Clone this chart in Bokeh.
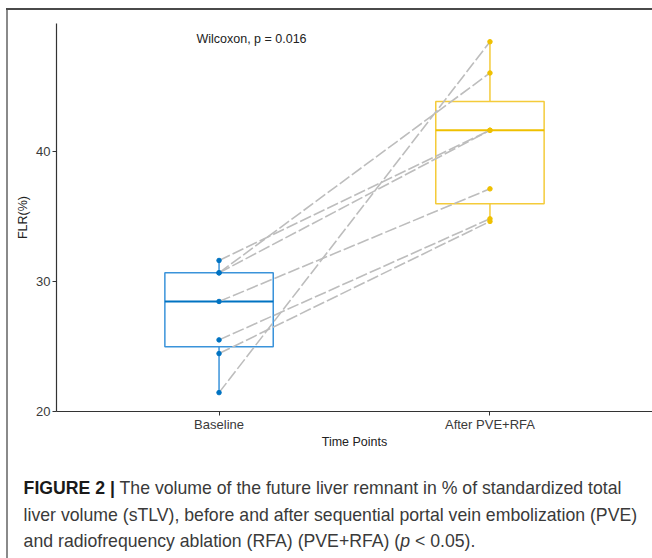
import numpy as np
from bokeh.plotting import figure
from bokeh.models import Range1d, FixedTicker, Label, ColumnDataSource, Div
from bokeh.layouts import column
from bokeh.embed import file_html
from bokeh.resources import INLINE

# ---------------- data ----------------
time_points = ["Baseline", "After PVE+RFA"]
baseline = [31.6, 30.65, 30.65, 28.45, 25.5, 24.45, 21.45]
after = [41.6, 46.0, 41.6, 37.1, 34.8, 34.6, 48.4]
y_ticks = [20, 30, 40]
test_label = "Wilcoxon, p = 0.016"
x_title = "Time Points"
y_title = "FLR(%)"
caption_bold = "FIGURE 2 |"
caption_lines = [
    "The volume of the future liver remnant in % of standardized total",
    "liver volume (sTLV), before and after sequential portal vein embolization (PVE)",
    "and radiofrequency ablation (RFA) (PVE+RFA) (<i>p</i> &lt; 0.05).",
]
box_colors = ["#3A93DA", "#F4CB3A"]
point_colors = ["#0073C2", "#EFC000"]

# ---------------- layout ----------------
W, H_FIG, H_CAP = 652, 462, 96
FL, FT, FB = 56, 23, 411          # frame left / top / bottom (px)
x0, x1 = 0.4, 2.6
y0, y1 = 20, 49.8
ppx = (W - FL) / (x1 - x0)
ppy = (FB - FT) / (y1 - y0)

def dx(px):
    return x0 + (px - FL) / ppx

def dy(py):
    return y0 + (FB - py) / ppy

p = figure(width=W, height=H_FIG, x_range=Range1d(x0, x1), y_range=Range1d(y0, y1),
           output_backend="svg", toolbar_location=None,
           min_border_left=FL, min_border_top=FT, min_border_bottom=H_FIG - FB,
           min_border_right=0, background_fill_color="white",
           border_fill_color=None)
p.outline_line_color = None
p.grid.visible = False

font = "Liberation Sans"
for ax in (p.xaxis[0], p.yaxis[0]):
    ax.axis_line_color = "#333333"
    ax.axis_line_width = 1.2
    ax.major_tick_line_color = "#333333"
    ax.major_tick_in = 0
    ax.major_tick_out = 4
    ax.minor_tick_line_color = None
    ax.major_label_text_font = font
    ax.major_label_text_font_size = "13px"
    ax.major_label_text_color = "#3a3a3a"
    ax.axis_label_text_font = font
    ax.axis_label_text_font_size = "12.5px"
    ax.axis_label_text_font_style = "normal"
    ax.axis_label_text_color = "#222222"

xpos = [i + 1 for i in range(len(time_points))]
p.xaxis.ticker = FixedTicker(ticks=xpos)
p.xaxis.major_label_overrides = {x: t for x, t in zip(xpos, time_points)}
p.xaxis.major_label_standoff = 1
p.xaxis.axis_label = x_title
p.xaxis.axis_label_standoff = 0
p.yaxis.ticker = FixedTicker(ticks=y_ticks)
p.yaxis.major_label_standoff = 2
p.yaxis.axis_label = y_title
p.yaxis.axis_label_standoff = 3

# ---------------- boxes ----------------
groups = [baseline, after]
half = 0.2
for xc, vals, bc, pc in zip(xpos, groups, box_colors, point_colors):
    v = np.array(vals)
    q1, med, q3 = np.percentile(v, [25, 50, 75])
    iqr = q3 - q1
    lo = v[v >= q1 - 1.5 * iqr].min()
    hi = v[v <= q3 + 1.5 * iqr].max()
    p.quad(left=[xc - half], right=[xc + half], bottom=[q1], top=[q3],
           fill_color="white", line_color=bc, line_width=1.5)
    p.segment(x0=[xc, xc], y0=[q3, q1], x1=[xc, xc], y1=[hi, lo],
              line_color=bc, line_width=1.5)
    p.segment(x0=[xc - half], y0=[med], x1=[xc + half], y1=[med],
              line_color=pc, line_width=2.2)

# ---------------- paired lines ----------------
src = ColumnDataSource(dict(x0=[xpos[0]] * len(baseline), y0=baseline,
                            x1=[xpos[1]] * len(after), y1=after))
p.segment(x0="x0", y0="y0", x1="x1", y1="y1", source=src,
          line_color="#BDBDBD", line_width=1.6, line_dash="12 3")

for xc, vals, pc in zip(xpos, groups, point_colors):
    p.scatter(x=[xc] * len(vals), y=vals, size=4.5, fill_color=pc,
              line_color=pc)

# ---------------- annotations ----------------
p.add_layout(Label(x=dx(251), y=dy(38), text=test_label, text_font=font,
                   text_font_size="12.5px", text_color="#222222",
                   text_align="center", text_baseline="middle"))

cap_html = (
    '<div style="font-family:\'Liberation Sans\',sans-serif;'
    'font-size:19px;line-height:26.5px;color:#3a3a3a;padding:8px 0 0 20px;'
    'white-space:nowrap;transform:scaleX(0.93);transform-origin:0 0;">'
    f'<b style="color:#1a1a1a">{caption_bold}</b> {caption_lines[0]}<br>'
    f'{caption_lines[1]}<br>{caption_lines[2]}</div>'
)
cap = Div(text=cap_html, width=W, height=H_CAP)

layout = column(p, cap, spacing=0)
layout.styles = {
    "background": "linear-gradient(#4a4a4a,#4a4a4a) 6px 8px / 646px 2px no-repeat, "
                  "linear-gradient(#8a8a8a,#8a8a8a) 6px 8px / 2px 550px no-repeat"
}

open("out.html", "w").write(file_html(layout, INLINE))
